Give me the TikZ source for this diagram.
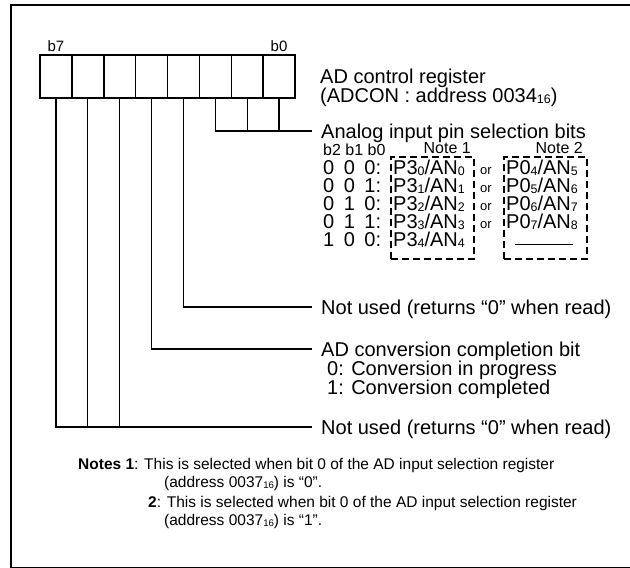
\documentclass[tikz,border=0pt]{standalone}
\usepackage{fontspec}
\setmainfont{Liberation Sans}
\newcommand\lsub[1]{\raisebox{-0.06em}{\scalebox{0.62}{#1}}}
\begin{document}
\begin{tikzpicture}[x=1pt,y=-1pt,
  big/.style={font=\fontsize{20}{20}\selectfont},
  lbl/.style={big,anchor=west,inner xsep=9pt,inner ysep=0pt,text height=14.3pt,text depth=0pt},
  txt/.style={big,anchor=west,inner sep=0pt,text height=14.3pt,text depth=0pt},
  rowtxt/.style={big,anchor=base west,inner sep=0pt},
  hdr/.style={font=\fontsize{16}{16}\selectfont,inner sep=0pt},
  ortxt/.style={font=\fontsize{13}{13}\selectfont,anchor=base,inner sep=0pt},
  bitlbl/.style={font=\fontsize{15}{15}\selectfont,anchor=south,inner sep=0pt,text depth=0pt,yshift=3pt},
  notetxt/.style={font=\fontsize{15.5}{15.5}\selectfont,anchor=base west,inner sep=0pt},
  cell/.style={draw,line width=1.5pt,minimum width=31.875pt,minimum height=43pt,inner sep=0pt,outer sep=0pt},
  wire/.style={line width=1.3pt},
  dbox/.style={draw,line width=2pt,dash pattern=on 7pt off 4pt}]
\useasboundingbox (0,0) rectangle (630,568);
% frame
\draw[line width=2.5pt] (11,568) -- (11,5) -- (630,5);
\draw[line width=1pt] (11,567) -- (630,567);
% register
\foreach \i in {0,...,7}
  \node[cell] (c\i) at ({40+31.875*(7-\i)+15.9375},76.5) {};
\draw[line width=2pt] (c7.north west) rectangle (c0.south east);
\node[bitlbl] (lb7) at (c7.north) {b7};
\node[bitlbl] (lb0) at (c0.north) {b0};
% labels
\node[txt] (reg1) at (320,76) {AD control register};
\node[txt] (reg2) at (320,95) {(ADCON : address 0034\lsub{16})};
\node[lbl] (sel) at (312,131) {Analog input pin selection bits};
\node[lbl] (nu1) at (312,307) {Not used (returns “0” when read)};
\node[lbl] (adc) at (312,349) {AD conversion completion bit};
\node[txt] (adc0) at (327,368) {0: Conversion in progress};
\node[txt] (adc1) at (327,387) {1: Conversion completed};
\node[lbl] (nu2) at (312,427) {Not used (returns “0” when read)};
% connectors
\draw[wire] (c2.south) |- (sel.west);
\draw[wire] (c1.south) -- (c1.south |- sel.west);
\draw[wire] (c0.south) -- (c0.south |- sel.west);
\draw[wire] (c3.south) |- (nu1.west);
\draw[wire] (c4.south) |- (adc.west);
\draw[wire] (c7.south) |- (nu2.west);
\draw[wire] (c6.south) -- (c6.south |- nu2.west);
\draw[wire] (c5.south) -- (c5.south |- nu2.west);
% selection table
\node[hdr,anchor=base west] (hd) at (323,155) {b2 b1 b0};
\node[hdr,anchor=base east] (n1) at (471,153) {Note 1};
\node[hdr,anchor=base east] (n2) at (583,153) {Note 2};
\node[dbox,anchor=north west,minimum width=83pt,minimum height=102pt,inner sep=0pt] (box1) at (390,156) {};
\node[dbox,anchor=north west,minimum width=83pt,minimum height=102pt,inner sep=0pt] (box2) at (503,156) {};
\node[rowtxt] (r0) at (323,174) {0\hspace{9.5pt}0\hspace{9.5pt}0:};
\node[rowtxt] (r1) at (323,192) {0\hspace{9.5pt}0\hspace{9.5pt}1:};
\node[rowtxt] (r2) at (323,210) {0\hspace{9.5pt}1\hspace{9.5pt}0:};
\node[rowtxt] (r3) at (323,228) {0\hspace{9.5pt}1\hspace{9.5pt}1:};
\node[rowtxt] (r4) at (323,246) {1\hspace{9.5pt}0\hspace{9.5pt}0:};
\node[rowtxt] (p0) at (393,174) {P3\lsub{0}/AN\lsub{0}};
\node[rowtxt] (p1) at (393,192) {P3\lsub{1}/AN\lsub{1}};
\node[rowtxt] (p2) at (393,210) {P3\lsub{2}/AN\lsub{2}};
\node[rowtxt] (p3) at (393,228) {P3\lsub{3}/AN\lsub{3}};
\node[rowtxt] (p4) at (393,246) {P3\lsub{4}/AN\lsub{4}};
\node[ortxt] (o0) at (486,174) {or};
\node[ortxt] (o1) at (486,192) {or};
\node[ortxt] (o2) at (486,210) {or};
\node[ortxt] (o3) at (486,228) {or};
\node[rowtxt] (q0) at (506,174) {P0\lsub{4}/AN\lsub{5}};
\node[rowtxt] (q1) at (506,192) {P0\lsub{5}/AN\lsub{6}};
\node[rowtxt] (q2) at (506,210) {P0\lsub{6}/AN\lsub{7}};
\node[rowtxt] (q3) at (506,228) {P0\lsub{7}/AN\lsub{8}};
\coordinate (dl) at (515,244);
\coordinate (dr) at (573,244);
\draw[line width=1pt] (dl) -- (dr);
% notes
\node[notetxt] (nt1) at (78,469.5) {\textbf{Notes 1}: This is selected when bit 0 of the AD input selection register};
\node[notetxt] (nt2) at (164,487.5) {(address 0037\lsub{16}) is “0”.};
\node[notetxt] (nt3) at (148,507.5) {\textbf{2}: This is selected when bit 0 of the AD input selection register};
\node[notetxt] (nt4) at (164,525.5) {(address 0037\lsub{16}) is “1”.};
\end{tikzpicture}
\end{document}
